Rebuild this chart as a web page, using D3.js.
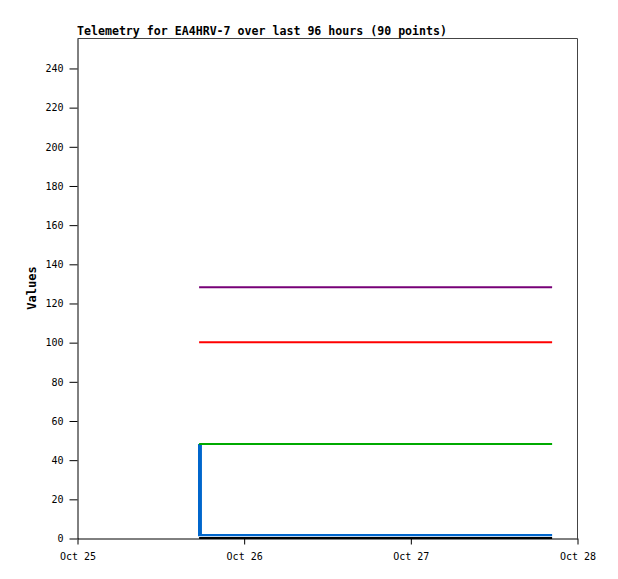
<!DOCTYPE html>
<html>
<head>
<meta charset="utf-8">
<script src="https://cdn.jsdelivr.net/npm/d3@7"></script>
<style>
  body { margin: 0; background: #fff; }
  text { font-family: "DejaVu Sans Mono", monospace; }
</style>
</head>
<body>
<script>
// chart data
var title = "Telemetry for EA4HRV-7 over last 96 hours (90 points)";
var yLabel = "Values";
var xTicks = ["2024-10-25T00:00", "2024-10-26T00:00", "2024-10-27T00:00", "2024-10-28T00:00"];
var yTicks = [0, 20, 40, 60, 80, 100, 120, 140, 160, 180, 200, 220, 240];
var times = ["2024-10-25T17:35", "2024-10-25T17:35", "2024-10-25T17:50", "2024-10-25T17:50", "2024-10-25T17:50", "2024-10-27T20:25"];
var purple = [128, 128, 128, 128, 128, 128];
var red = [100, 100, 100, 100, 100, 100];
var green = [48, 48, 48, 48, 48, 48];
var blue = [48, 1.5, 1.5, 48, 1.5, 1.5];
var black = [0, 0, 0, 0, 0, 0];

var series = [
  { values: black, color: "#000000", w: 2 },
  { values: blue, color: "#0066cc", w: 2.2 },
  { values: green, color: "#00aa00", w: 2 },
  { values: red, color: "#ff0000", w: 2 },
  { values: purple, color: "#770077", w: 2 }
];

var W = 618, H = 579;
var pLeft = 77, pTop = 38, pRight = 577, pBottom = 538;

var parse = d3.timeParse("%Y-%m-%dT%H:%M");
var x = d3.scaleTime()
  .domain([parse(xTicks[0]), parse(xTicks[xTicks.length - 1])])
  .range([pLeft, pRight]);
var y = d3.scaleLinear().domain([0, 255.3]).range([pBottom, pTop]);

var svg = d3.select("body").append("svg")
  .attr("width", W)
  .attr("height", H);

// frame (top & right in grey)
svg.append("path")
  .attr("d", "M" + pLeft + "," + pTop + "H" + pRight + "V" + pBottom)
  .attr("fill", "none")
  .attr("stroke", "#444")
  .attr("stroke-width", 1)
  .attr("transform", "translate(0.5,0.5)");

var line = d3.line()
  .x(function(d) { return x(parse(d[0])); })
  .y(function(d) { return y(d[1]); });

series.forEach(function(s) {
  svg.append("path")
    .datum(times.map(function(t, i) { return [t, s.values[i]]; }))
    .attr("d", line)
    .attr("fill", "none")
    .attr("stroke", s.color)
    .attr("stroke-width", s.w);
});

// axes
var yAxis = d3.axisLeft(y).tickValues(yTicks).tickSize(8).tickSizeOuter(0).tickPadding(6);
var gy = svg.append("g")
  .attr("transform", "translate(" + (pLeft + 0.5) + ",0.5)")
  .call(yAxis);

var fmt = d3.timeFormat("%b %d");
var xAxis = d3.axisBottom(x).tickValues(xTicks.map(parse))
  .tickFormat(fmt).tickSize(6).tickSizeOuter(0).tickPadding(8);
var gx = svg.append("g")
  .attr("transform", "translate(0.5," + (pBottom + 0.5) + ")")
  .call(xAxis);

[gx, gy].forEach(function(g) {
  g.select(".domain").attr("stroke", "#000");
  g.selectAll(".tick line").attr("stroke", "#000");
  g.selectAll("text")
    .attr("fill", "#000")
    .style("font-family", "'DejaVu Sans Mono', monospace")
    .style("font-size", "10px");
});

svg.append("text")
  .attr("x", pLeft)
  .attr("y", 35)
  .attr("textLength", 370)
  .attr("lengthAdjust", "spacingAndGlyphs")
  .style("font-size", "12px")
  .style("font-weight", "bold")
  .text(title);

svg.append("text")
  .attr("transform", "translate(36," + ((pTop + pBottom) / 2) + ") rotate(-90)")
  .attr("text-anchor", "middle")
  .style("font-size", "12px")
  .style("font-weight", "bold")
  .text(yLabel);
</script>
</body>
</html>
